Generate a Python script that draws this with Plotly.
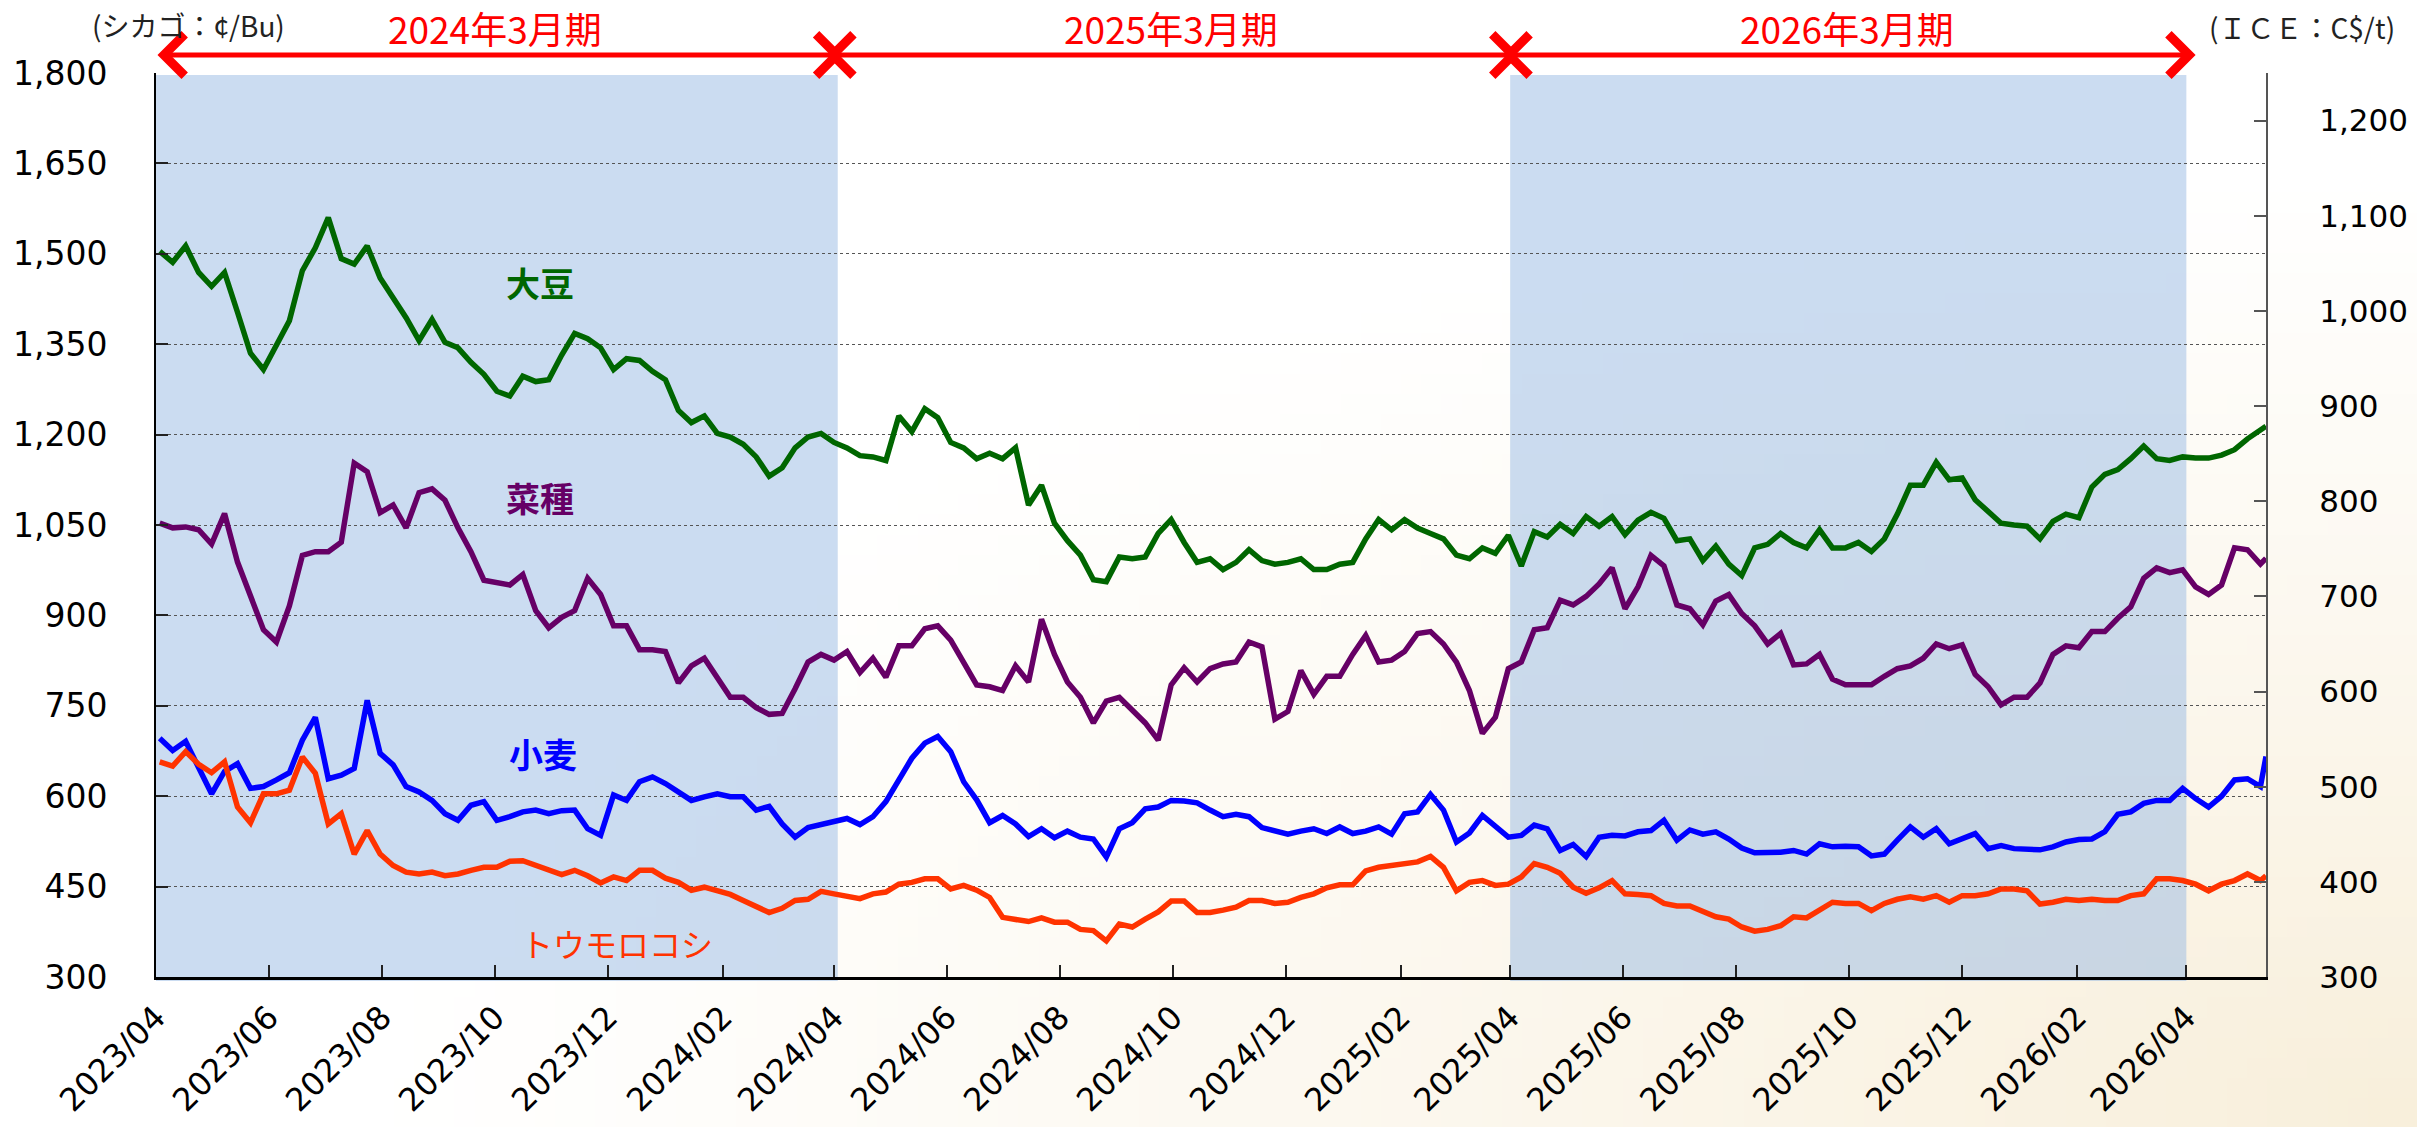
import base64
import struct
import zlib

import pandas as pd
import plotly.graph_objects as go

# ---------------- data ----------------
# weekly sampling dates (Mondays) plus the last observation
dates = list(pd.date_range("2023-04-03", periods=163, freq="7D").strftime("%Y-%m-%d")) + ["2026-05-14"]

# Chicago soybeans (cents/Bu, left axis)
soy = [1504, 1486, 1513, 1469, 1446, 1469, 1403, 1335, 1308, 1351,
       1389, 1472, 1510, 1560, 1492, 1483, 1513, 1460, 1427, 1394,
       1356, 1391, 1353, 1344, 1320, 1300, 1272, 1264, 1297, 1288,
       1291, 1332, 1368, 1359, 1344, 1308, 1326, 1323, 1305, 1291,
       1240, 1220, 1231, 1202, 1196, 1184, 1163, 1131, 1145, 1178,
       1196, 1202, 1187, 1178, 1165, 1163, 1157, 1231, 1205, 1243,
       1228, 1187, 1178, 1160, 1169, 1160, 1178, 1083, 1116, 1053,
       1024, 1000, 959, 956, 997, 994, 997, 1036, 1059, 1021,
       988, 994, 976, 988, 1009, 991, 985, 988, 994, 976,
       976, 985, 988, 1027, 1059, 1042, 1059, 1045, 1036, 1027,
       1000, 994, 1012, 1003, 1033, 982, 1039, 1030, 1051, 1036,
       1064, 1048, 1064, 1034, 1058, 1071, 1061, 1024, 1027, 991,
       1015, 985, 966, 1012, 1018, 1036, 1021, 1012, 1042, 1012,
       1012, 1021, 1006, 1027, 1068, 1116, 1116, 1154, 1125, 1128,
       1092, 1071, 1053, 1050, 1048, 1027, 1056, 1068, 1062, 1113,
       1134, 1142, 1160, 1181, 1160, 1157, 1163, 1161, 1161, 1166,
       1175, 1193, 1208, 1214]

# ICE canola / rapeseed (C$/t, right axis)
rapeseed = [777, 772, 773, 770, 755, 787, 736, 700, 665, 652,
            690, 743, 747, 747, 757, 840, 831, 788, 796, 772,
            809, 813, 801, 772, 747, 717, 715, 712, 723, 685,
            667, 678, 685, 719, 702, 669, 669, 644, 644, 642,
            609, 627, 635, 615, 594, 594, 583, 576, 577, 603,
            631, 639, 633, 642, 620, 635, 615, 648, 648, 666,
            669, 654, 631, 607, 605, 601, 627, 610, 676, 639,
            610, 594, 567, 590, 594, 581, 567, 549, 607, 625,
            610, 624, 629, 631, 652, 647, 571, 579, 622, 597,
            616, 616, 639, 659, 631, 633, 642, 661, 663, 650,
            631, 601, 556, 573, 624, 631, 665, 667, 696, 691,
            700, 713, 730, 687, 710, 743, 732, 691, 687, 670,
            695, 702, 682, 669, 650, 661, 628, 629, 639, 613,
            607, 607, 607, 616, 624, 627, 635, 650, 645, 649,
            618, 605, 586, 594, 594, 609, 639, 648, 646, 663,
            663, 677, 689, 719, 730, 725, 728, 710, 702, 712,
            751, 749, 734, 740]

# Chicago wheat (cents/Bu, left axis)
wheat = [696, 676, 691, 646, 604, 641, 654, 613, 616, 627,
         639, 693, 731, 629, 635, 646, 759, 671, 652, 616,
         607, 593, 571, 560, 585, 591, 560, 566, 574, 577,
         571, 576, 577, 546, 535, 602, 593, 624, 632, 621,
         607, 593, 599, 604, 599, 599, 577, 583, 554, 532,
         548, 553, 556, 563, 553, 566, 591, 627, 663, 688,
         699, 674, 624, 594, 556, 568, 554, 533, 546, 531,
         542, 532, 529, 499, 546, 556, 579, 582, 593, 592,
         589, 577, 566, 570, 566, 548, 543, 537, 542, 546,
         538, 549, 538, 542, 549, 537, 571, 574, 603, 577,
         524, 539, 568, 549, 532, 535, 552, 546, 510, 520,
         500, 532, 535, 534, 541, 543, 560, 527, 544, 537,
         541, 529, 514, 506, 506, 507, 510, 504, 521, 516,
         517, 516, 501, 504, 527, 549, 532, 546, 521, 529,
         538, 513, 518, 513, 513, 511, 516, 524, 528, 529,
         541, 570, 574, 588, 593, 593, 613, 596, 582, 600,
         627, 629, 616, 666]

# Chicago corn (cents/Bu, left axis)
corn = [657, 650, 674, 653, 639, 657, 582, 556, 604, 604,
        610, 665, 638, 554, 571, 504, 543, 504, 485, 474,
        471, 474, 468, 471, 477, 482, 482, 492, 493, 485,
        477, 470, 477, 468, 456, 466, 460, 477, 477, 464,
        457, 444, 449, 444, 437, 427, 416, 407, 414, 427,
        429, 442, 438, 435, 430, 438, 441, 454, 457, 463,
        463, 446, 452, 444, 432, 399, 396, 392, 398, 391,
        391, 379, 377, 360, 388, 383, 396, 408, 426, 426,
        407, 407, 411, 416, 427, 427, 422, 424, 432, 438,
        448, 453, 453, 476, 482, 485, 488, 491, 500, 482,
        443, 457, 460, 452, 454, 466, 488, 482, 472, 449,
        439, 448, 460, 438, 437, 435, 422, 418, 418, 410,
        400, 396, 383, 376, 379, 385, 400, 398, 410, 424,
        422, 422, 410, 422, 429, 433, 429, 435, 424, 435,
        435, 438, 446, 446, 443, 421, 424, 429, 427, 429,
        427, 427, 435, 438, 463, 463, 460, 454, 443, 454,
        460, 471, 460, 468]

series_names = ["大豆", "菜種", "小麦", "トウモロコシ"]
period_labels = ["2024年3月期", "2025年3月期", "2026年3月期"]
period_bounds = ["2023-04-01", "2024-04-01", "2025-04-01", "2026-04-01"]
shaded_periods = [0, 2]
left_ticks = list(range(300, 1801, 150))
right_ticks = list(range(300, 1201, 100))

for s in (soy, rapeseed, wheat, corn):
    assert len(s) == len(dates), len(s)

# ---------------- styling ----------------
W, H = 2417, 1127
PL, PR, PT, PB = 156, 2266, 73, 977  # plot area in pixels
xdom = [PL / W, PR / W]
ydom = [1 - PB / H, 1 - PT / H]

C_SOY = "#006600"
C_RAPE = "#660066"
C_WHEAT = "#0000FF"
C_CORN = "#FF3300"
AX_FONT = "DejaVu Sans"
JP_FONT = "Noto Sans CJK JP"
LW = 5.5


def px(xp):
    return xp / W


def py(yp):
    return 1 - yp / H


def gradient_png(w, h, c0, c1):
    raw = bytearray()
    for j in range(h):
        raw.append(0)
        for i in range(w):
            dx = 1 - i / (w - 1)
            dy = 1 - j / (h - 1)
            d = (dx * dx + dy * dy) ** 0.5
            t = max(0.0, 1 - d / 0.85) ** 1.1
            for a, b in zip(c0, c1):
                raw.append(int(round(a + (b - a) * t)))

    def chunk(tag, data):
        c = struct.pack(">I", len(data)) + tag + data
        return c + struct.pack(">I", zlib.crc32(tag + data) & 0xFFFFFFFF)

    png = (b"\x89PNG\r\n\x1a\n"
           + chunk(b"IHDR", struct.pack(">IIBBBBB", w, h, 8, 2, 0, 0, 0))
           + chunk(b"IDAT", zlib.compress(bytes(raw)))
           + chunk(b"IEND", b""))
    return "data:image/png;base64," + base64.b64encode(png).decode()


fig = go.Figure()
fig.add_trace(go.Scatter(x=dates, y=soy, mode="lines", name=series_names[0],
                         line=dict(color=C_SOY, width=LW), yaxis="y"))
fig.add_trace(go.Scatter(x=dates, y=wheat, mode="lines", name=series_names[2],
                         line=dict(color=C_WHEAT, width=LW), yaxis="y"))
fig.add_trace(go.Scatter(x=dates, y=corn, mode="lines", name=series_names[3],
                         line=dict(color=C_CORN, width=LW), yaxis="y"))
fig.add_trace(go.Scatter(x=dates, y=rapeseed, mode="lines", name=series_names[1],
                         line=dict(color=C_RAPE, width=LW), yaxis="y2"))

shapes = []
for i in shaded_periods:
    x0 = period_bounds[i]
    x1 = (pd.Timestamp(period_bounds[i + 1]) + pd.Timedelta(days=2 if i == 0 else 0)).strftime("%Y-%m-%d")
    shapes.append(dict(type="rect", xref="x", yref="paper", x0=x0, x1=x1,
                       y0=py(981), y1=py(75), fillcolor="rgba(151,185,227,0.5)",
                       line=dict(width=0), layer="below"))

annotations = []
for i, lab in enumerate(period_labels):
    s = pd.Timestamp(period_bounds[i])
    e = pd.Timestamp(period_bounds[i + 1])
    start = (s - pd.Timedelta(days=0 if i == 0 else 5)).strftime("%Y-%m-%d")
    end = (e + pd.Timedelta(days=5)).strftime("%Y-%m-%d")
    annotations.append(dict(x=end, y=py(55), xref="x", yref="paper",
                            ax=start, ay=0, axref="x", ayref="pixel",
                            showarrow=True, arrowhead=4, startarrowhead=4,
                            arrowside="end+start", arrowsize=1.6, startarrowsize=1.6,
                            arrowwidth=5, arrowcolor="#FF0000", text=""))
    mid = (s + (e - s) / 2).strftime("%Y-%m-%d")
    annotations.append(dict(x=mid, y=py(28), xref="x", yref="paper", text=lab,
                            xanchor="center", yanchor="middle", showarrow=False,
                            font=dict(family=JP_FONT, size=37, color="#FF0000")))

label_pos = [(540, 282, C_SOY, True), (540, 497, C_RAPE, True),
             (543, 753, C_WHEAT, True), (617, 943, C_CORN, False)]
for name, (lx, ly, col, bold) in zip(series_names, label_pos):
    annotations.append(dict(x=px(lx), y=py(ly), xref="paper", yref="paper",
                            text=f"<b>{name}</b>" if bold else name,
                            xanchor="center", yanchor="middle", showarrow=False,
                            font=dict(family=JP_FONT, size=34 if bold else 32, color=col)))

annotations.append(dict(x=px(188), y=py(3), xref="paper", yref="paper", text="(シカゴ：¢/Bu)",
                        xanchor="center", yanchor="top", showarrow=False,
                        font=dict(family=JP_FONT, size=28, color="#222222")))
annotations.append(dict(x=px(2302), y=py(5), xref="paper", yref="paper", text="(ＩＣＥ：C$/t)",
                        xanchor="center", yanchor="top", showarrow=False,
                        font=dict(family=JP_FONT, size=28, color="#222222")))

fig.update_layout(
    width=W, height=H,
    margin=dict(l=0, r=0, t=0, b=0),
    paper_bgcolor="white",
    plot_bgcolor="rgba(0,0,0,0)",
    showlegend=False,
    template="none",
    shapes=shapes,
    annotations=annotations,
    images=[dict(source=gradient_png(120, 56, (255, 255, 255), (248, 239, 219)),
                 xref="paper", yref="paper", x=0, y=1, sizex=1, sizey=1,
                 sizing="stretch", xanchor="left", yanchor="top", layer="below")],
    xaxis=dict(domain=xdom, type="date", range=["2023-04-01", "2026-05-14"],
               tickformat="%Y/%m", dtick="M2", tick0="2023-04-01", tickangle=-45,
               ticks="inside", ticklen=12, tickwidth=1.5, tickcolor="#222222",
               showline=True, linecolor="#000000", linewidth=2.5, mirror=False,
               showgrid=False, zeroline=False, automargin=False,
               tickfont=dict(family=AX_FONT, size=32, color="#000000"),
               ticklabelstandoff=6),
    yaxis=dict(domain=ydom, range=[300, 1800], tickvals=left_ticks, tickformat=",",
               ticks="inside", ticklen=12, tickwidth=1.5, tickcolor="#222222",
               showline=True, linecolor="#000000", linewidth=2,
               showgrid=True, gridcolor="#555555", griddash="dot", gridwidth=1.3,
               zeroline=False, automargin=False,
               tickfont=dict(family=AX_FONT, size=33, color="#000000"),
               ticklabelstandoff=40),
    yaxis2=dict(overlaying="y", side="right", anchor="x", range=[300, 1250],
                tickvals=right_ticks, tickformat=",",
                ticks="inside", ticklen=12, tickwidth=1.5, tickcolor="#555555",
                showline=True, linecolor="#555555", linewidth=2,
                showgrid=False, zeroline=False, automargin=False,
                tickfont=dict(family=AX_FONT, size=31, color="#000000"),
                ticklabelstandoff=45),
)

fig.write_html("out.html", config={"displayModeBar": False},
               post_script="document.body.style.margin='0';document.body.style.overflow='hidden';")
